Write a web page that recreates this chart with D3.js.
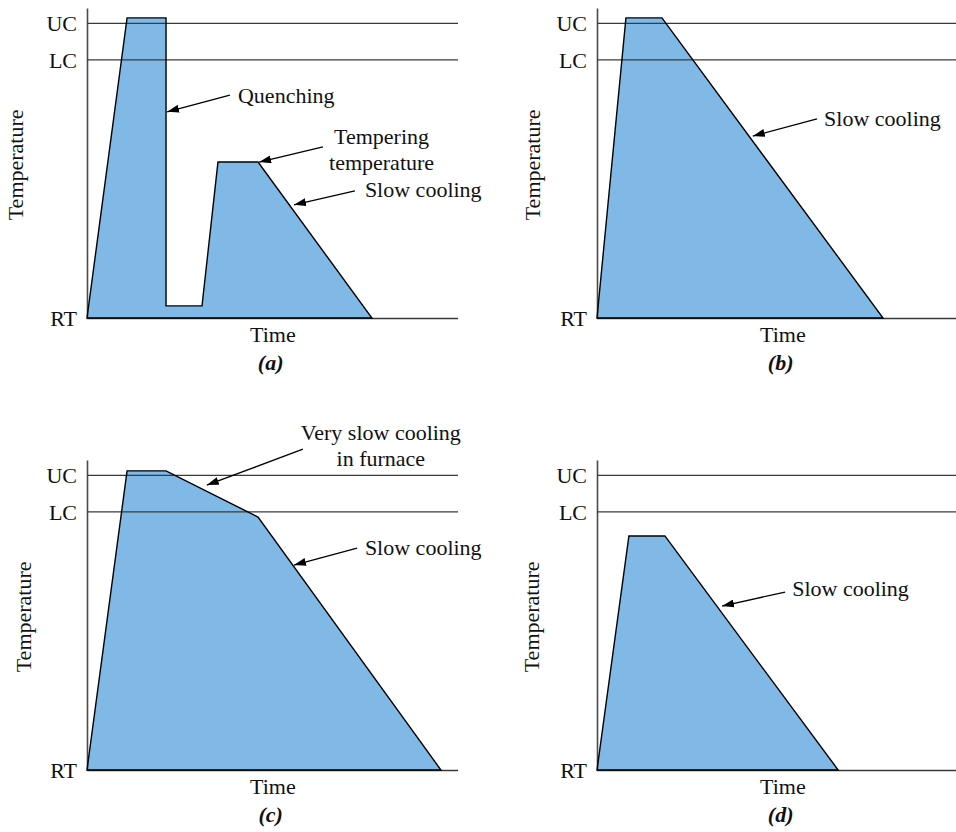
<!DOCTYPE html>
<html><head><meta charset="utf-8">
<script src="https://cdn.jsdelivr.net/npm/d3@7"></script>
<style>
body{margin:0;background:#fff}
svg{display:block}
text{font-family:"Liberation Serif","Times New Roman",serif;font-size:22px;fill:#111}
</style></head><body>
<svg id="chart" width="956" height="832"></svg>
<script>
// ---- data (time in arbitrary units 0..100, temperature in arbitrary units, RT = 0) ----
const levelLabels = ["UC", "LC", "RT"];
const levelValues = [95.2, 83.4, 0];
const panelLetters = ["(a)", "(b)", "(c)", "(d)"];
const xTitle = "Time";
const yTitle = "Temperature";

const timeA = [0, 10.8, 21.3, 21.3, 31.0, 35.3, 46.1, 76.8];
const tempA = [0, 96.8, 96.8, 3.9, 3.9, 50.3, 50.3, 0];
const timeB = [0, 7.8, 17.5, 77.1];
const tempB = [0, 96.8, 96.8, 0];
const timeC = [0, 10.8, 21.3, 46.1, 95.4];
const tempC = [0, 96.5, 96.5, 81.6, 0];
const timeD = [0, 8.6, 18.3, 65.0];
const tempD = [0, 75.5, 75.5, 0];

// annotations: text lines, arrow start [time,temp], arrow tip [time,temp], text anchor [time,temp]
const notesA = [
  {lines: ["Quenching"], from: [38.5, 71.9], to: [21.6, 66.5], at: [40.7, 69.4], anchor: "start"},
  {lines: ["Tempering", "temperature"], from: [63.6, 55.2], to: [46.4, 50.3], at: [79.4, 56.1], anchor: "middle"},
  {lines: ["Slow cooling"], from: [72.2, 41.0], to: [55.8, 36.5], at: [74.9, 39.0], anchor: "start"}
];
const notesB = [
  {lines: ["Slow cooling"], from: [59.3, 64.2], to: [42.0, 58.7], at: [61.2, 61.9], anchor: "start"}
];
const notesC = [
  {lines: ["Very slow cooling", "in furnace"], from: [58.2, 103.5], to: [32.3, 91.9], at: [79.2, 106.5], anchor: "middle"},
  {lines: ["Slow cooling"], from: [72.8, 71.6], to: [55.8, 66.1], at: [74.9, 69.4], anchor: "start"}
];
const notesD = [
  {lines: ["Slow cooling"], from: [50.7, 57.4], to: [33.7, 52.9], at: [52.6, 56.1], anchor: "start"}
];

// ---- layout ----
const panels = [
  {x0: 87,  y0: 8,   time: timeA, temp: tempA, notes: notesA, yTitleX: -64, letter: panelLetters[0]},
  {x0: 597, y0: 8,   time: timeB, temp: tempB, notes: notesB, yTitleX: -57, letter: panelLetters[1]},
  {x0: 87,  y0: 460, time: timeC, temp: tempC, notes: notesC, yTitleX: -56, letter: panelLetters[2]},
  {x0: 597, y0: 460, time: timeD, temp: tempD, notes: notesD, yTitleX: -58, letter: panelLetters[3]}
];

const svg = d3.select("#chart");
svg.append("defs").append("marker")
  .attr("id", "arrow").attr("viewBox", "0 0 12 8")
  .attr("refX", 12).attr("refY", 4)
  .attr("markerWidth", 12).attr("markerHeight", 8)
  .attr("markerUnits", "userSpaceOnUse").attr("orient", "auto")
  .append("path").attr("d", "M0,0L12,4L0,8Z").attr("fill", "#000");

const x = d3.scaleLinear().domain([0, 100]).range([0, 371]);
const y = d3.scaleLinear().domain([0, 100]).range([310, 0]);
const line = d3.line();

panels.forEach(p => {
  const g = svg.append("g").attr("transform", `translate(${p.x0},${p.y0})`);
  const pts = p.time.map((t, i) => [x(t), y(p.temp[i])]);

  // fill
  g.append("path").attr("d", line(pts) + "Z").attr("fill", "#80b8e6").attr("stroke", "none");

  // axis with level lines
  const axis = d3.axisLeft(y)
    .tickValues(levelValues)
    .tickFormat((d, i) => levelLabels[i])
    .tickSize(-x(100))
    .tickSizeOuter(0)
    .tickPadding(10);
  const ag = g.append("g").call(axis);
  ag.attr("font-size", null).attr("font-family", null);
  ag.select(".domain").attr("stroke", "#4a4a4a").attr("stroke-width", 1.6);
  ag.selectAll(".tick line").attr("stroke", "#3a3a3a").attr("stroke-width", 1.3);
  ag.selectAll(".tick text")
    .style("font-size", "22px").style("font-family", '"Liberation Serif","Times New Roman",serif')
    .attr("fill", "#111").attr("dy", "0.36em");

  // outline
  g.append("path").attr("d", line(pts) + "Z").attr("fill", "none")
    .attr("stroke", "#000").attr("stroke-width", 1.4).attr("stroke-linejoin", "miter");

  // titles
  g.append("text").attr("transform", `translate(${p.yTitleX},${y(49.4)}) rotate(-90)`)
    .attr("text-anchor", "middle").text(yTitle);
  g.append("text").attr("x", x(50.1)).attr("y", y(0) + 24)
    .attr("text-anchor", "middle").text(xTitle);
  g.append("text").attr("x", x(49.5)).attr("y", y(0) + 52)
    .attr("text-anchor", "middle").style("font-weight", "bold").style("font-style", "italic")
    .text(p.letter);

  // annotations
  p.notes.forEach(n => {
    g.append("line")
      .attr("x1", x(n.from[0])).attr("y1", y(n.from[1]))
      .attr("x2", x(n.to[0])).attr("y2", y(n.to[1]))
      .attr("stroke", "#000").attr("stroke-width", 1.3)
      .attr("marker-end", "url(#arrow)");
    const t = g.append("text").attr("text-anchor", n.anchor);
    n.lines.forEach((s, i) => {
      t.append("tspan").attr("x", x(n.at[0])).attr("y", y(n.at[1]) + i * 26).text(s);
    });
  });
});
</script>
</body></html>
